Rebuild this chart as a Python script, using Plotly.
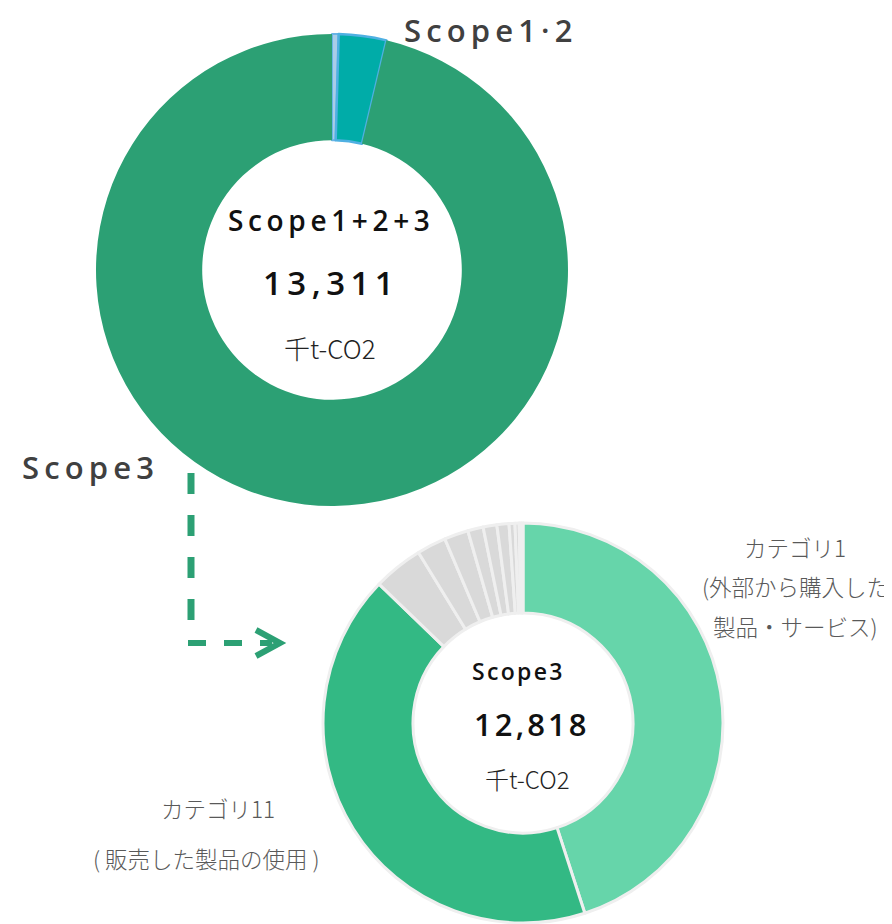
import plotly.graph_objects as go

# page body has an 8px margin; the figure is laid out in window pixel coords
OFF = 8
W, H = 892 - OFF, 924 - OFF

# ---- data ----
top_labels = ["Scope1", "Scope2", "Scope3"]
top_values = [60, 433, 12818]
top_colors = ["#a9cde8", "#00aca8", "#2ca074"]
top_line_colors = ["#6ab4e6", "#4fb0e2", "#2ca074"]
top_line_widths = [2, 2.5, 0]

s3_labels = ["カテゴリ1", "カテゴリ11", "その他A", "その他B", "その他C", "その他D",
             "その他E", "その他F", "その他G", "その他H", "その他I", "その他J"]
s3_values = [5768, 5412, 516, 303, 249, 160, 142, 125, 61, 43, 21, 18]
s3_colors = ["#66d5aa", "#33b984"] + ["#d9d9d9"] * 10

total_all = "13,311"
total_s3 = "12,818"
unit = "千t-CO2"


def px(x):
    return (x - OFF) / W


def py(y):
    return 1 - (y - OFF) / H


def spaced(s, sep="\u2009"):
    return sep.join(list(s))


fig = go.Figure()

fig.add_trace(go.Pie(
    labels=top_labels, values=top_values, sort=False, direction="clockwise",
    rotation=0, hole=0.55, textinfo="none", showlegend=False,
    marker=dict(colors=top_colors, line=dict(color=top_line_colors, width=top_line_widths)),
    domain=dict(x=[px(96), px(568)], y=[py(506), py(34)]),
))

fig.add_trace(go.Pie(
    labels=s3_labels, values=s3_values, sort=False, direction="clockwise",
    rotation=0, hole=0.55, textinfo="none", showlegend=False,
    marker=dict(colors=s3_colors, line=dict(color="#efefef", width=3)),
    domain=dict(x=[px(323), px(723)], y=[py(923), py(523)]),
))

ann = []
dark = "#404040"
gray = "#595959"
lat = "Open Sans, Noto Sans, sans-serif"
jp = "Noto Sans CJK JP, sans-serif"


def add(text, x, y, size, color, weight=400, family=lat):
    ann.append(dict(text=text, x=px(x), y=py(y), xref="paper", yref="paper",
                    showarrow=False, xanchor="center", yanchor="middle",
                    font=dict(size=size, color=color, family=family, weight=weight)))


add(spaced("Scope1·2"), 489, 30, 31, dark, 600)
add(spaced("Scope3"), 88, 467, 31, dark, 600)

add(spaced("Scope1+2+3"), 329, 220, 28, "#111111", 600)
add(spaced(total_all), 328, 283, 33, "#111111", 600)
add(unit, 330, 347, 26, "#222222", 300, jp)

add(spaced("Scope3", "\u200a"), 517, 671, 23, "#111111", 600)
add(spaced(total_s3, "\u200a"), 530, 724, 31, "#111111", 600)
add(unit, 527, 778, 24, "#222222", 300, jp)

add("カテゴリ1", 795, 547, 22.5, gray, 300, jp)
add("(外部から購入した", 795, 586, 22.5, gray, 300, jp)
add("製品・サービス)", 795, 626, 22.5, gray, 300, jp)

add("カテゴリ11", 218, 808, 22.5, gray, 300, jp)
add("( 販売した製品の使用 )", 206, 858, 22.5, gray, 300, jp)

green = "#2ca074"
shapes = [
    dict(type="line", xref="paper", yref="paper", x0=px(191), y0=py(473), x1=px(191), y1=py(634),
         line=dict(color=green, width=7, dash="dash")),
    dict(type="line", xref="paper", yref="paper", x0=px(188), y0=py(643), x1=px(272), y1=py(643),
         line=dict(color=green, width=6, dash="dash")),
    dict(type="path", xref="paper", yref="paper",
         path=f"M {px(256)},{py(630)} L {px(280)},{py(643)} L {px(256)},{py(656)}",
         line=dict(color=green, width=6)),
]

fig.update_layout(
    width=W, height=H, margin=dict(l=0, r=0, t=0, b=0),
    paper_bgcolor="white", plot_bgcolor="white",
    annotations=ann, shapes=shapes,
)

fig.write_html("out.html")
